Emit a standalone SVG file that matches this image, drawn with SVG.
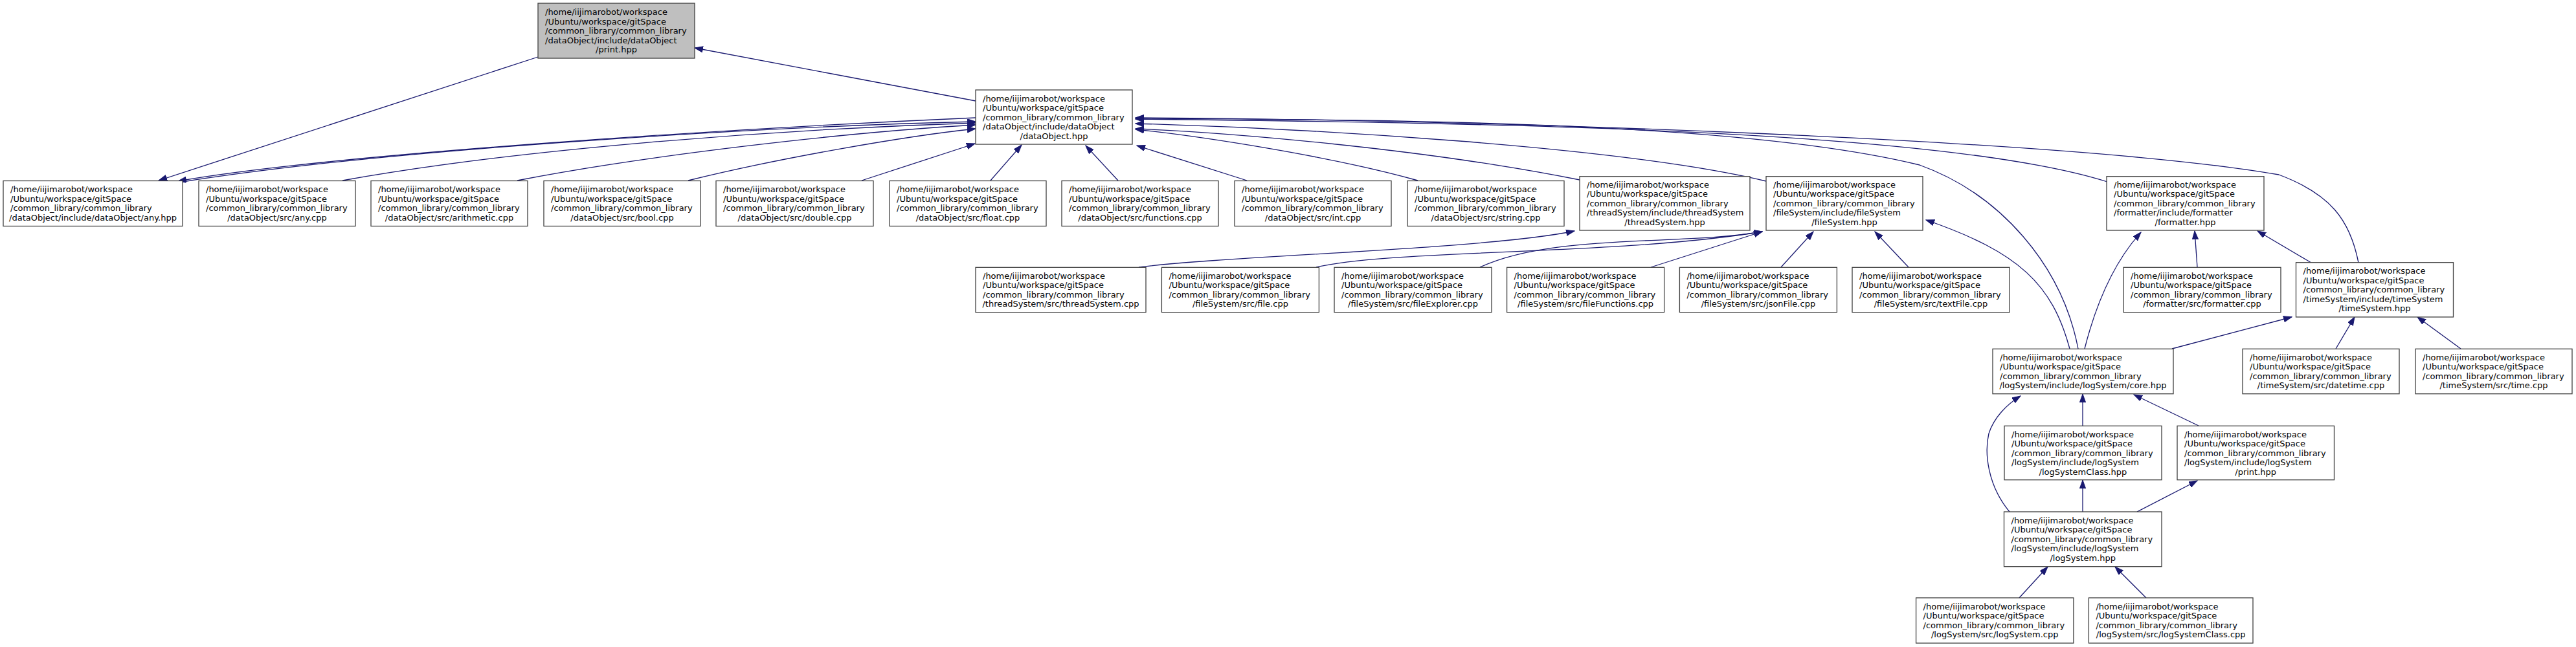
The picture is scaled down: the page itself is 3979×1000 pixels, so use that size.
<svg xmlns="http://www.w3.org/2000/svg" width="3979" height="1000" viewBox="0 0 3979 1000">
<style>
.node rect{fill:#ffffff;stroke:#404040;stroke-width:1.3}
.node.root rect{fill:#bfbfbf}
text{font-family:"DejaVu Sans","Liberation Sans",sans-serif;font-size:13px;fill:#000000}
.c{text-anchor:middle}
.edges path{fill:none;stroke:#191970;stroke-width:1.3;marker-end:url(#ah)}
</style>
<defs>
<marker id="ah" markerWidth="14" markerHeight="10" refX="13" refY="4.65" orient="auto" markerUnits="userSpaceOnUse"><path d="M0,0 L13,4.65 L0,9.3 z" fill="#191970" stroke="#191970" stroke-width="1"/></marker>
</defs>
<rect x="0" y="0" width="3979" height="1000" fill="#ffffff"/>
<g class="edges" id="edges">
<path d="M1507,156 L1073,74"/>
<path d="M831,88 L245,279"/>
<path d="M1507,182 C1100,200 500,240 275,280"/>
<path d="M282,281 C600,230 1200,195 1507,188"/>
<path d="M529,279 C800,230 1200,200 1507,190"/>
<path d="M799,279 C1000,240 1300,205 1507,193"/>
<path d="M1063,279 C1200,245 1400,210 1507,199"/>
<path d="M1331,279 L1506,222"/>
<path d="M1530,279 L1578,224"/>
<path d="M1727,279 L1677,225"/>
<path d="M1926,279 L1756,225"/>
<path d="M2190,279 C2050,240 1850,210 1754,200"/>
<path d="M2440,278 C2200,230 1900,205 1754,199"/>
<path d="M2728,280 C2500,225 2000,198 1754,191"/>
<path d="M3255,281 C3000,200 2300,190 1754,184"/>
<path d="M3210,539 C3185,410 3090,300 2965,255 C2700,190 2200,185 1754,183"/>
<path d="M3643,406 C3630,340 3600,300 3520,270 C3200,215 2300,185 1754,182"/>
<path d="M1759,413 C1900,395 2300,385 2432,357"/>
<path d="M2033,413 C2150,385 2500,395 2722,358"/>
<path d="M2286,413 C2400,360 2600,380 2722,358"/>
<path d="M2550,413 L2722,358"/>
<path d="M2751,413 L2801,358"/>
<path d="M2948,413 L2896,358"/>
<path d="M3197,539 C3170,440 3120,390 2975,340"/>
<path d="M3220,539 C3240,460 3270,400 3307,359"/>
<path d="M3394,413 L3390,357"/>
<path d="M3570,406 L3487,357"/>
<path d="M3355,539 L3540,490"/>
<path d="M3608,539 L3637,490"/>
<path d="M3801,539 L3734,490"/>
<path d="M3217,658 L3217,609"/>
<path d="M3396,658 L3296,610"/>
<path d="M3104,791 C3070,750 3065,700 3072,670 C3080,645 3100,625 3121,612"/>
<path d="M3217,791 L3217,742"/>
<path d="M3301,791 L3394,743"/>
<path d="M3119,924 L3163,876"/>
<path d="M3315,924 L3267,876"/>
</g>
<g id="n_print" class="node root"><rect x="831" y="5" width="242" height="85"/><text x="842" y="23">/home/iijimarobot/workspace</text><text x="842" y="37.5">/Ubuntu/workspace/gitSpace</text><text x="842" y="52">/common_library/common_library</text><text x="842" y="66.5">/dataObject/include/dataObject</text><text class="c" x="952" y="81">/print.hpp</text></g>
<g id="n_dataobject" class="node"><rect x="1507" y="139" width="242" height="84"/><text x="1518" y="156.5">/home/iijimarobot/workspace</text><text x="1518" y="171">/Ubuntu/workspace/gitSpace</text><text x="1518" y="185.5">/common_library/common_library</text><text x="1518" y="200">/dataObject/include/dataObject</text><text class="c" x="1628" y="214.5">/dataObject.hpp</text></g>
<g id="n_anyhpp" class="node"><rect x="5" y="279.5" width="277" height="70"/><text x="16" y="297">/home/iijimarobot/workspace</text><text x="16" y="311.5">/Ubuntu/workspace/gitSpace</text><text x="16" y="326">/common_library/common_library</text><text class="c" x="143.5" y="340.5">/dataObject/include/dataObject/any.hpp</text></g>
<g id="n_anycpp" class="node"><rect x="307" y="279.5" width="242" height="70"/><text x="318" y="297">/home/iijimarobot/workspace</text><text x="318" y="311.5">/Ubuntu/workspace/gitSpace</text><text x="318" y="326">/common_library/common_library</text><text class="c" x="428" y="340.5">/dataObject/src/any.cpp</text></g>
<g id="n_arith" class="node"><rect x="573" y="279.5" width="242" height="70"/><text x="584" y="297">/home/iijimarobot/workspace</text><text x="584" y="311.5">/Ubuntu/workspace/gitSpace</text><text x="584" y="326">/common_library/common_library</text><text class="c" x="694" y="340.5">/dataObject/src/arithmetic.cpp</text></g>
<g id="n_bool" class="node"><rect x="840" y="279.5" width="242" height="70"/><text x="851" y="297">/home/iijimarobot/workspace</text><text x="851" y="311.5">/Ubuntu/workspace/gitSpace</text><text x="851" y="326">/common_library/common_library</text><text class="c" x="961" y="340.5">/dataObject/src/bool.cpp</text></g>
<g id="n_double" class="node"><rect x="1106" y="279.5" width="243" height="70"/><text x="1117" y="297">/home/iijimarobot/workspace</text><text x="1117" y="311.5">/Ubuntu/workspace/gitSpace</text><text x="1117" y="326">/common_library/common_library</text><text class="c" x="1227.5" y="340.5">/dataObject/src/double.cpp</text></g>
<g id="n_float" class="node"><rect x="1374" y="279.5" width="242" height="70"/><text x="1385" y="297">/home/iijimarobot/workspace</text><text x="1385" y="311.5">/Ubuntu/workspace/gitSpace</text><text x="1385" y="326">/common_library/common_library</text><text class="c" x="1495" y="340.5">/dataObject/src/float.cpp</text></g>
<g id="n_functions" class="node"><rect x="1640" y="279.5" width="242" height="70"/><text x="1651" y="297">/home/iijimarobot/workspace</text><text x="1651" y="311.5">/Ubuntu/workspace/gitSpace</text><text x="1651" y="326">/common_library/common_library</text><text class="c" x="1761" y="340.5">/dataObject/src/functions.cpp</text></g>
<g id="n_int" class="node"><rect x="1907" y="279.5" width="242" height="70"/><text x="1918" y="297">/home/iijimarobot/workspace</text><text x="1918" y="311.5">/Ubuntu/workspace/gitSpace</text><text x="1918" y="326">/common_library/common_library</text><text class="c" x="2028" y="340.5">/dataObject/src/int.cpp</text></g>
<g id="n_string" class="node"><rect x="2174" y="279.5" width="242" height="70"/><text x="2185" y="297">/home/iijimarobot/workspace</text><text x="2185" y="311.5">/Ubuntu/workspace/gitSpace</text><text x="2185" y="326">/common_library/common_library</text><text class="c" x="2295" y="340.5">/dataObject/src/string.cpp</text></g>
<g id="n_threadhpp" class="node"><rect x="2440" y="272.7" width="263" height="83.3"/><text x="2451" y="289.8">/home/iijimarobot/workspace</text><text x="2451" y="304.3">/Ubuntu/workspace/gitSpace</text><text x="2451" y="318.8">/common_library/common_library</text><text x="2451" y="333.3">/threadSystem/include/threadSystem</text><text class="c" x="2571.5" y="347.8">/threadSystem.hpp</text></g>
<g id="n_filehpp" class="node"><rect x="2728" y="272.7" width="242" height="83.3"/><text x="2739" y="289.8">/home/iijimarobot/workspace</text><text x="2739" y="304.3">/Ubuntu/workspace/gitSpace</text><text x="2739" y="318.8">/common_library/common_library</text><text x="2739" y="333.3">/fileSystem/include/fileSystem</text><text class="c" x="2849" y="347.8">/fileSystem.hpp</text></g>
<g id="n_formatterhpp" class="node"><rect x="3254" y="272.7" width="243" height="83.3"/><text x="3265" y="289.8">/home/iijimarobot/workspace</text><text x="3265" y="304.3">/Ubuntu/workspace/gitSpace</text><text x="3265" y="318.8">/common_library/common_library</text><text x="3265" y="333.3">/formatter/include/formatter</text><text class="c" x="3375.5" y="347.8">/formatter.hpp</text></g>
<g id="n_threadcpp" class="node"><rect x="1507" y="413.3" width="263" height="69.4"/><text x="1518" y="430.8">/home/iijimarobot/workspace</text><text x="1518" y="445.2">/Ubuntu/workspace/gitSpace</text><text x="1518" y="459.8">/common_library/common_library</text><text class="c" x="1638.5" y="474.2">/threadSystem/src/threadSystem.cpp</text></g>
<g id="n_filecpp" class="node"><rect x="1794.4" y="413.3" width="243" height="69.4"/><text x="1805.4" y="430.8">/home/iijimarobot/workspace</text><text x="1805.4" y="445.2">/Ubuntu/workspace/gitSpace</text><text x="1805.4" y="459.8">/common_library/common_library</text><text class="c" x="1915.9" y="474.2">/fileSystem/src/file.cpp</text></g>
<g id="n_fileexplorer" class="node"><rect x="2061" y="413.3" width="243" height="69.4"/><text x="2072" y="430.8">/home/iijimarobot/workspace</text><text x="2072" y="445.2">/Ubuntu/workspace/gitSpace</text><text x="2072" y="459.8">/common_library/common_library</text><text class="c" x="2182.5" y="474.2">/fileSystem/src/fileExplorer.cpp</text></g>
<g id="n_filefunctions" class="node"><rect x="2327.6" y="413.3" width="243" height="69.4"/><text x="2338.6" y="430.8">/home/iijimarobot/workspace</text><text x="2338.6" y="445.2">/Ubuntu/workspace/gitSpace</text><text x="2338.6" y="459.8">/common_library/common_library</text><text class="c" x="2449.1" y="474.2">/fileSystem/src/fileFunctions.cpp</text></g>
<g id="n_jsonfile" class="node"><rect x="2594.4" y="413.3" width="243" height="69.4"/><text x="2605.4" y="430.8">/home/iijimarobot/workspace</text><text x="2605.4" y="445.2">/Ubuntu/workspace/gitSpace</text><text x="2605.4" y="459.8">/common_library/common_library</text><text class="c" x="2715.9" y="474.2">/fileSystem/src/jsonFile.cpp</text></g>
<g id="n_textfile" class="node"><rect x="2861" y="413.3" width="243" height="69.4"/><text x="2872" y="430.8">/home/iijimarobot/workspace</text><text x="2872" y="445.2">/Ubuntu/workspace/gitSpace</text><text x="2872" y="459.8">/common_library/common_library</text><text class="c" x="2982.5" y="474.2">/fileSystem/src/textFile.cpp</text></g>
<g id="n_formattercpp" class="node"><rect x="3280" y="413.3" width="243" height="69.4"/><text x="3291" y="430.8">/home/iijimarobot/workspace</text><text x="3291" y="445.2">/Ubuntu/workspace/gitSpace</text><text x="3291" y="459.8">/common_library/common_library</text><text class="c" x="3401.5" y="474.2">/formatter/src/formatter.cpp</text></g>
<g id="n_timehpp" class="node"><rect x="3546.5" y="405.7" width="243" height="84.3"/><text x="3557.5" y="423.3">/home/iijimarobot/workspace</text><text x="3557.5" y="437.8">/Ubuntu/workspace/gitSpace</text><text x="3557.5" y="452.3">/common_library/common_library</text><text x="3557.5" y="466.8">/timeSystem/include/timeSystem</text><text class="c" x="3668" y="481.3">/timeSystem.hpp</text></g>
<g id="n_core" class="node"><rect x="3078" y="539.3" width="279" height="69.4"/><text x="3089" y="556.8">/home/iijimarobot/workspace</text><text x="3089" y="571.2">/Ubuntu/workspace/gitSpace</text><text x="3089" y="585.8">/common_library/common_library</text><text class="c" x="3217.5" y="600.2">/logSystem/include/logSystem/core.hpp</text></g>
<g id="n_datetime" class="node"><rect x="3464" y="539.3" width="242" height="69.4"/><text x="3475" y="556.8">/home/iijimarobot/workspace</text><text x="3475" y="571.2">/Ubuntu/workspace/gitSpace</text><text x="3475" y="585.8">/common_library/common_library</text><text class="c" x="3585" y="600.2">/timeSystem/src/datetime.cpp</text></g>
<g id="n_time" class="node"><rect x="3731" y="539.3" width="242" height="69.4"/><text x="3742" y="556.8">/home/iijimarobot/workspace</text><text x="3742" y="571.2">/Ubuntu/workspace/gitSpace</text><text x="3742" y="585.8">/common_library/common_library</text><text class="c" x="3852" y="600.2">/timeSystem/src/time.cpp</text></g>
<g id="n_logclasshpp" class="node"><rect x="3096" y="658.3" width="243" height="83.4"/><text x="3107" y="675.5">/home/iijimarobot/workspace</text><text x="3107" y="690">/Ubuntu/workspace/gitSpace</text><text x="3107" y="704.5">/common_library/common_library</text><text x="3107" y="719">/logSystem/include/logSystem</text><text class="c" x="3217.5" y="733.5">/logSystemClass.hpp</text></g>
<g id="n_logprint" class="node"><rect x="3363" y="658.3" width="242.5" height="83.4"/><text x="3374" y="675.5">/home/iijimarobot/workspace</text><text x="3374" y="690">/Ubuntu/workspace/gitSpace</text><text x="3374" y="704.5">/common_library/common_library</text><text x="3374" y="719">/logSystem/include/logSystem</text><text class="c" x="3484.2" y="733.5">/print.hpp</text></g>
<g id="n_logsystemhpp" class="node"><rect x="3095.5" y="791" width="243.5" height="84.7"/><text x="3106.5" y="808.8">/home/iijimarobot/workspace</text><text x="3106.5" y="823.3">/Ubuntu/workspace/gitSpace</text><text x="3106.5" y="837.8">/common_library/common_library</text><text x="3106.5" y="852.3">/logSystem/include/logSystem</text><text class="c" x="3217.2" y="866.8">/logSystem.hpp</text></g>
<g id="n_logsystemcpp" class="node"><rect x="2959.6" y="924" width="243.3" height="70"/><text x="2970.6" y="941.8">/home/iijimarobot/workspace</text><text x="2970.6" y="956.2">/Ubuntu/workspace/gitSpace</text><text x="2970.6" y="970.8">/common_library/common_library</text><text class="c" x="3081.2" y="985.2">/logSystem/src/logSystem.cpp</text></g>
<g id="n_logclasscpp" class="node"><rect x="3226.4" y="924" width="253.6" height="70"/><text x="3237.4" y="941.8">/home/iijimarobot/workspace</text><text x="3237.4" y="956.2">/Ubuntu/workspace/gitSpace</text><text x="3237.4" y="970.8">/common_library/common_library</text><text class="c" x="3353.2" y="985.2">/logSystem/src/logSystemClass.cpp</text></g>
</svg>
